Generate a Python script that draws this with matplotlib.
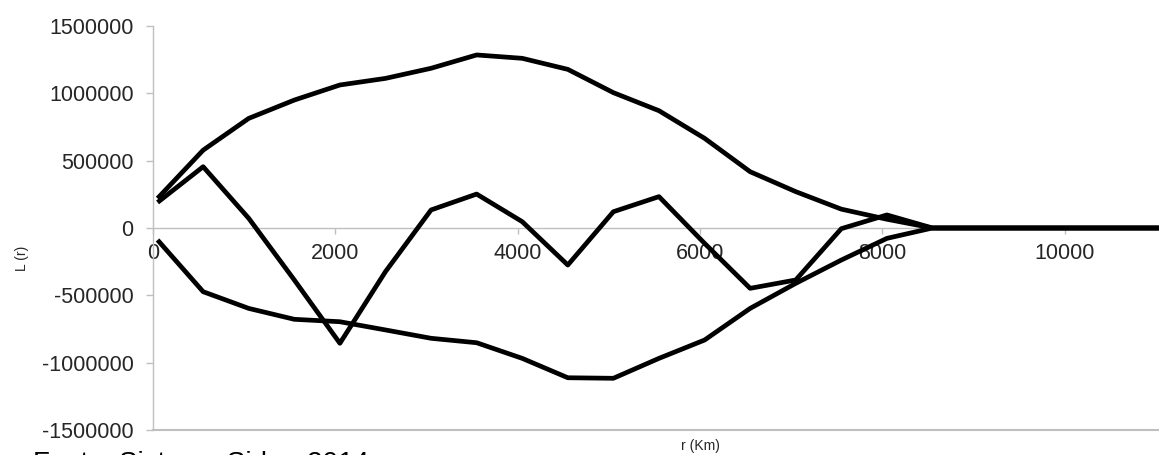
import matplotlib
matplotlib.use("Agg")
import matplotlib.pyplot as plt

plt.rcParams['font.family'] = ['Liberation Sans', 'DejaVu Sans']

# distance r (km)
r_km = [50, 550, 1050, 1550, 2050, 2550, 3050, 3550, 4050, 4550, 5050, 5550,
        6050, 6550, 7050, 7550, 8050, 8550, 9050, 9550, 10050, 10550, 11050,
        11550, 12050]

upper_env = [220000, 578000, 814000, 950000, 1062000, 1111000, 1186000, 1285000,
             1260000, 1178000, 1005000, 871000, 666000, 418000, 270000, 140000,
             65000, 0, 0, 0, 0, 0, 0, 0, 0]

l_observed = [190000, 455000, 72000, -386000, -856000, -324000, 134000, 252000,
              47000, -275000, 121000, 233000, -114000, -448000, -386000, -5000,
              97000, 0, 0, 0, 0, 0, 0, 0, 0]

lower_env = [-89000, -473000, -597000, -678000, -696000, -757000, -819000, -852000,
             -968000, -1112000, -1116000, -968000, -832000, -597000, -411000, -238000,
             -77000, 0, 0, 0, 0, 0, 0, 0, 0]

y_ticks = [-1500000, -1000000, -500000, 0, 500000, 1000000, 1500000]
x_ticks = [0, 2000, 4000, 6000, 8000, 10000]
x_label = "r (Km)"
y_label = "L (r)"
source_note = "Fonte: Sistema Sidra, 2014"

W, H = 1159, 455
fig = plt.figure(figsize=(W / 100, H / 100), dpi=100)
ax_left, ax_right, ax_top, ax_bottom = 153, 1247, 26, 430
ax = fig.add_axes([ax_left / W, (H - ax_bottom) / H,
                   (ax_right - ax_left) / W, (ax_bottom - ax_top) / H])

grey = '#BFBFBF'
txt = '#262626'

for series in (upper_env, l_observed, lower_env):
    ax.plot(r_km, series, color='black', lw=3.4, solid_joinstyle='round',
            solid_capstyle='butt', zorder=3)

ax.set_xlim(0, 12000)
ax.set_ylim(-1500000, 1500000)
ax.set_yticks(y_ticks)
ax.set_yticklabels([str(v) for v in y_ticks])
ax.set_xticks(x_ticks)
ax.set_xticklabels([str(v) for v in x_ticks])

for s in ('top', 'right'):
    ax.spines[s].set_visible(False)
ax.spines['left'].set_color(grey)
ax.spines['left'].set_linewidth(1.0)
ax.spines['bottom'].set_position(('data', 0))
ax.spines['bottom'].set_color(grey)
ax.spines['bottom'].set_linewidth(1.0)
ax.axhline(-1500000, color=grey, lw=1.5, zorder=1, clip_on=False)

ax.tick_params(axis='y', direction='out', length=5, width=1, color=grey,
               labelsize=15.5, labelcolor=txt, pad=9)
ax.tick_params(axis='x', direction='out', length=4, width=1, color=grey,
               labelsize=15.5, labelcolor=txt, pad=7)

fig.text(22 / W, (H - 258) / H, y_label, rotation=90, ha='center', va='center',
         fontsize=10, color=txt)
fig.text(700 / W, (H - 446) / H, x_label, ha='center', va='center',
         fontsize=10, color=txt)
fig.text(33 / W, (H - 471) / H, source_note, ha='left', va='baseline',
         fontsize=20, color='black')

fig.savefig('out.png', dpi=100)
